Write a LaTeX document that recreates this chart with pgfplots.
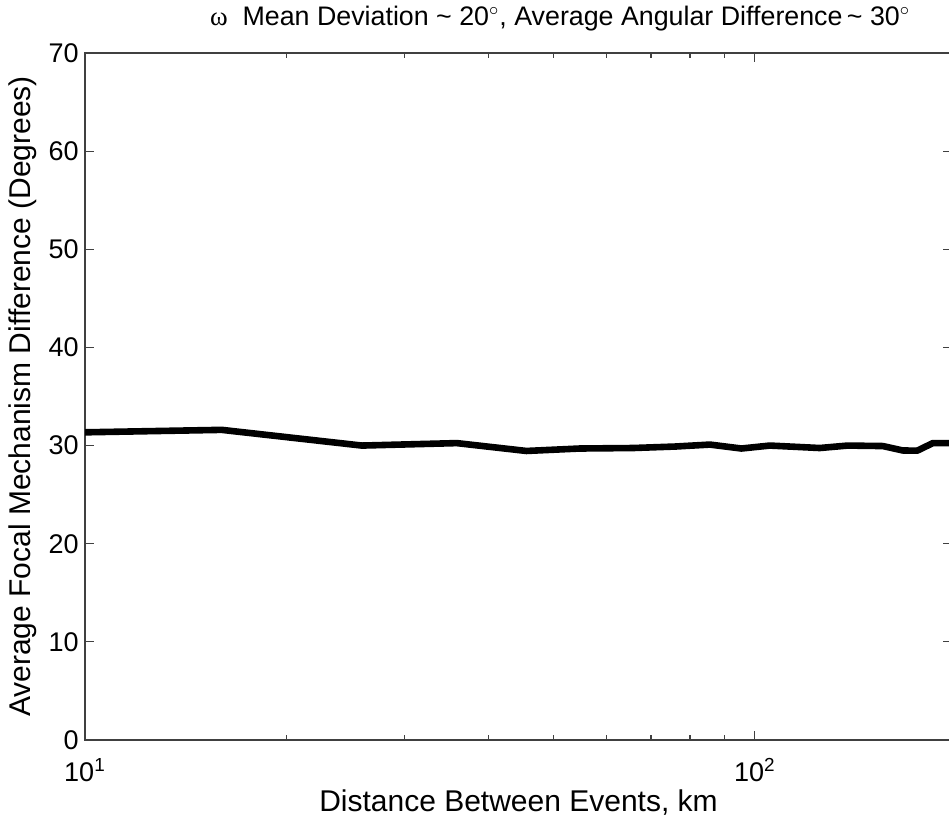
\documentclass[border=0pt]{standalone}
\usepackage{fontspec}
\setmainfont{Liberation Sans}
\newfontfamily\symfont{Liberation Serif}
\usepackage{pgfplots}
\pgfplotsset{compat=1.18}
\begin{document}
\begin{tikzpicture}
\begin{axis}[
  scale only axis,
  width=433.5pt, height=343.5pt,
  xmode=log,
  xmin=10, xmax=197,
  ymin=0, ymax=70,
  ytick={0,10,...,70},
  xtick={10,100},
  xticklabels={10\textsuperscript{1},10\textsuperscript{2}},
  minor xtick={20,30,40,50,60,70,80,90},
  tick align=inside,
  major tick length=4.5pt,
  minor tick length=2.5pt,
  axis line style={black!75, line width=0.65pt},
  every tick/.style={black!75, line width=0.6pt},
  tick label style={font=\fontsize{13.5}{15}\selectfont},
  /pgf/number format/assume math mode=true,
  yticklabel style={anchor=east, inner sep=0pt, xshift=-3pt},
  xticklabel style={anchor=base, inner sep=0pt, yshift=-21pt},
  label style={font=\fontsize{15}{17}\selectfont},
  xlabel={Distance Between Events, km},
  ylabel={Average Focal Mechanism Difference (Degrees)},
  xlabel style={at={(axis description cs:0.5,-0.0917)}, anchor=center},
  ylabel style={at={(axis description cs:-0.0634,0.5)}, anchor=base, rotate=0},
  title={{\symfont ω}\ \ Mean Deviation \textasciitilde\ 20$^{\circ}$, Average Angular Difference\,\textasciitilde\ 30$^{\circ}$},
  title style={at={(axis description cs:0.548,1.032)}, anchor=center, font=\fontsize{13.4}{15}\selectfont},
]
\addplot[black, line width=3.3pt, line join=round] coordinates {
(10,31.35) (16.0,31.6) (25.9,30.0) (35.9,30.25) (45.6,29.45) (54.8,29.7)
(65.8,29.75) (76,29.9) (85.7,30.1) (95.5,29.7) (105.3,30.0) (125,29.75)
(137.6,30.0) (155.3,29.95) (166.3,29.5) (174.8,29.48) (184.4,30.25) (197,30.25)
};
\end{axis}
\pgfresetboundingbox
\useasboundingbox (-42.5pt,-39pt) rectangle (432pt,370pt);
\end{tikzpicture}
\end{document}
